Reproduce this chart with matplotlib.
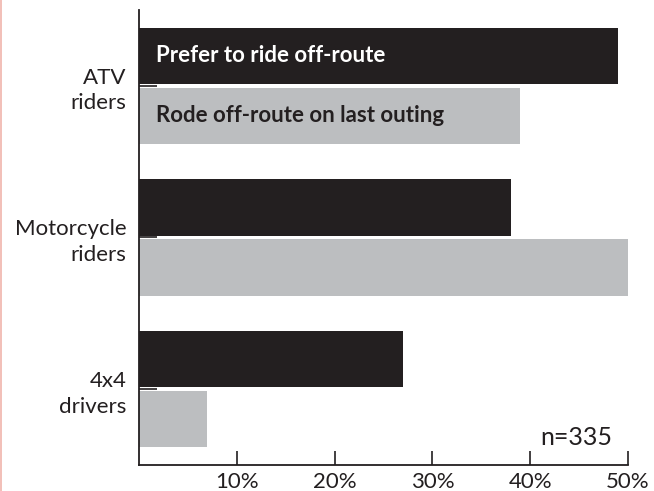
import numpy as np
import matplotlib
matplotlib.use("Agg")
import matplotlib.pyplot as plt
from matplotlib.lines import Line2D

plt.rcParams['font.family'] = ['Lato', 'DejaVu Sans']

# Data
groups = ['ATV\nriders', 'Motorcycle\nriders', '4x4\ndrivers']
prefer = [49, 38, 27]          # Prefer to ride off-route (%)
last_outing = [39, 50, 7]      # Rode off-route on last outing (%)
xticks = [10, 20, 30, 40, 50]
xtick_labels = ['10%', '20%', '30%', '40%', '50%']
note = 'n=335'

dark = '#231f20'
grey = '#bcbec0'

fig = plt.figure(figsize=(6.54, 4.91), dpi=100)
ax = fig.add_axes([0.2125, 0.053, 0.7477, 0.9266])

# groups drawn top to bottom
pos = np.arange(len(groups))[::-1]
h = 0.37
off = 0.198
ax.barh(pos + off, prefer, height=h, color=dark, linewidth=0)
ax.barh(pos - off, last_outing, height=h, color=grey, linewidth=0)

# series labels inside the first group's bars
ax.text(1.7, pos[0] + off, 'Prefer to ride off-route', color='white',
        fontsize=16, fontweight='bold', va='center', ha='left')
ax.text(1.7, pos[0] - off, 'Rode off-route on last outing', color=dark,
        fontsize=16, fontweight='bold', va='center', ha='left')

ax.text(48.4, -0.32, note, color=dark, fontsize=18, ha='right', va='center')

ax.set_xlim(0, 50)
ax.set_ylim(-0.5, 2.5)
ax.set_yticks(pos)
ax.set_yticklabels(groups, fontsize=16, color=dark, linespacing=1.35)
ax.set_xticks(xticks)
ax.set_xticklabels(xtick_labels, fontsize=16, color=dark)

ax.tick_params(axis='y', direction='in', length=13, width=1.2, color=dark, pad=9)
ax.tick_params(axis='x', direction='in', length=10, width=1.2, color=dark, pad=5)

for s in ['top', 'right']:
    ax.spines[s].set_visible(False)
for s in ['left', 'bottom']:
    ax.spines[s].set_linewidth(1.3)
    ax.spines[s].set_color(dark)

# thin pink rule along the left edge
fig.add_artist(Line2D([0.002, 0.002], [0, 1], color='#f0b4ab', lw=1.2,
                      transform=fig.transFigure))

fig.savefig('out.png', dpi=100)
